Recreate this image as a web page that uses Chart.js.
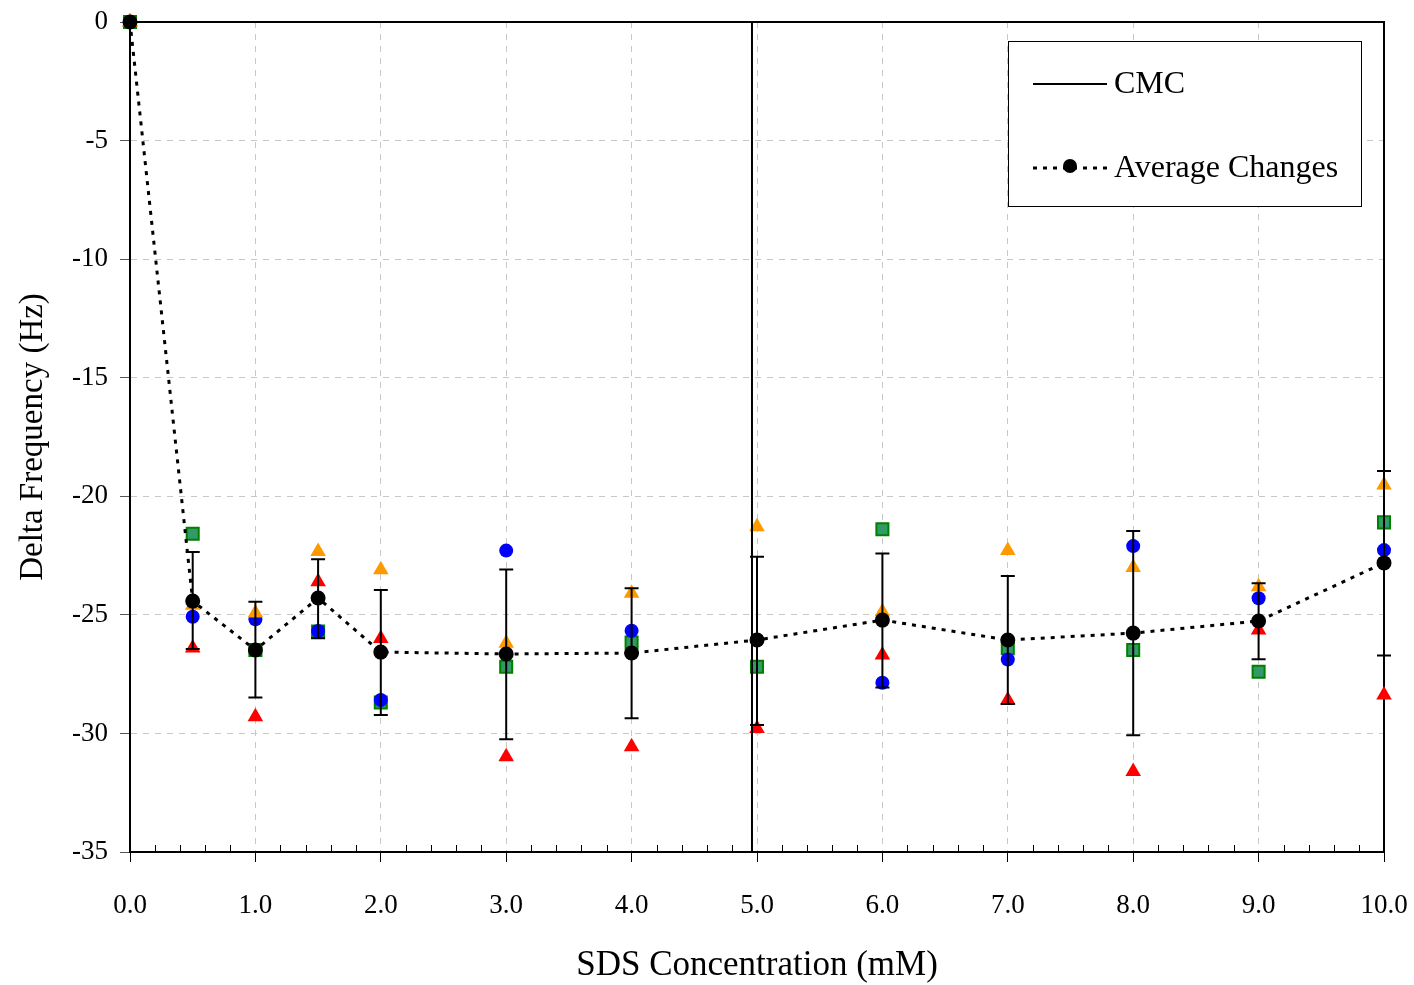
<!DOCTYPE html>
<html>
<head>
<meta charset="utf-8">
<script src="https://cdn.jsdelivr.net/npm/chart.js@4.4.0/dist/chart.umd.min.js"></script>
<style>
  html, body { margin: 0; padding: 0; background: #fff; }
</style>
</head>
<body>
<canvas id="chart" width="1414" height="985"></canvas>
<script>
// SDS concentration (mM)
const conc = [0, 0.5, 1, 1.5, 2, 3, 4, 5, 6, 7, 8, 9, 10];

// single runs, delta frequency (Hz)
const runBlue = [0, -25.08, -25.19, -25.68, -28.59, -22.29, -25.67, -26.05, -27.86, -26.88, -22.1, -24.3, -22.27];
const runGreen = [0, -21.58, -26.48, -25.7, -28.7, -27.19, -26.17, -27.19, -21.39, -26.41, -26.48, -27.4, -21.1];
const runOrange = [0, -24.6, -24.92, -22.33, -23.1, -26.2, -24.09, -21.28, -24.87, -22.29, -23.0, -23.81, -19.52];
const runRed = [0, -26.4, -29.3, -23.6, -26.0, -30.98, -30.56, -29.79, -26.69, -28.59, -31.61, -25.64, -28.38];

// average and error bar ends
const average = [0, -24.42, -26.48, -24.29, -26.57, -26.65, -26.61, -26.06, -25.22, -26.06, -25.77, -25.26, -22.81];
const errUpper = [0, -22.35, -24.45, -22.66, -23.95, -23.09, -23.88, -22.55, -22.41, -23.36, -21.46, -23.67, -18.93];
const errLower = [0, -26.44, -28.48, -25.99, -29.22, -30.25, -29.36, -29.64, -28.06, -28.76, -30.08, -26.87, -26.71];

const cmc = 4.96;
const yRange = [-35, 0];
const xRange = [0, 10];

const FONT = '"Liberation Serif", "Times New Roman", serif';

const pts = arr => conc.map((x, i) => ({ x: x, y: arr[i] }));

// error bars, drawn just before the average dataset
const errorBars = {
  id: 'errorBars',
  beforeDatasetDraw(chart, args) {
    if (args.index !== 0) return;
    const ctx = chart.ctx;
    const xs = chart.scales.x, ys = chart.scales.y;
    ctx.save();
    ctx.strokeStyle = '#000';
    ctx.lineWidth = 2;
    conc.forEach((c, i) => {
      if (errUpper[i] === errLower[i]) return;
      const px = xs.getPixelForValue(c);
      const top = ys.getPixelForValue(errUpper[i]);
      const bot = ys.getPixelForValue(errLower[i]);
      ctx.beginPath();
      ctx.moveTo(px, top); ctx.lineTo(px, bot);
      ctx.moveTo(px - 7, top); ctx.lineTo(px + 7, top);
      ctx.moveTo(px - 7, bot); ctx.lineTo(px + 7, bot);
      ctx.stroke();
    });
    ctx.restore();
  }
};

// top / right frame and inner minor ticks
const frame = {
  id: 'frame',
  beforeDatasetsDraw(chart) {
    const ctx = chart.ctx;
    const a = chart.chartArea;
    const xs = chart.scales.x;
    ctx.save();
    ctx.strokeStyle = '#000';
    ctx.lineWidth = 2;
    ctx.beginPath();
    ctx.moveTo(a.left, a.top); ctx.lineTo(a.right, a.top); ctx.lineTo(a.right, a.bottom);
    ctx.stroke();
    ctx.lineWidth = 1;
    ctx.beginPath();
    for (let k = 1; k < 50; k++) {
      if (k % 5 === 0) continue;
      const px = Math.round(xs.getPixelForValue(k / 5)) + 0.5;
      ctx.moveTo(px, a.bottom); ctx.lineTo(px, a.bottom - 7);
    }
    ctx.stroke();
    ctx.restore();
  }
};

const legendBox = {
  id: 'legendBox',
  afterDraw(chart) {
    const ctx = chart.ctx;
    const a = chart.chartArea;
    const x0 = a.right - 376, y0 = a.top + 19, w = 353, h = 165;
    ctx.save();
    ctx.fillStyle = '#fff';
    ctx.fillRect(x0, y0, w, h);
    ctx.strokeStyle = '#000';
    ctx.lineWidth = 1;
    ctx.strokeRect(x0 + 0.5, y0 + 0.5, w, h);

    ctx.lineWidth = 2;
    ctx.beginPath();
    ctx.moveTo(x0 + 25, y0 + 43); ctx.lineTo(x0 + 99, y0 + 43);
    ctx.stroke();

    ctx.lineWidth = 3;
    ctx.setLineDash([4, 6]);
    ctx.beginPath();
    ctx.moveTo(x0 + 25, y0 + 127); ctx.lineTo(x0 + 101, y0 + 127);
    ctx.stroke();
    ctx.setLineDash([]);
    ctx.fillStyle = '#000';
    ctx.beginPath();
    ctx.arc(x0 + 62, y0 + 125, 7, 0, Math.PI * 2);
    ctx.fill();

    ctx.font = '32px ' + FONT;
    ctx.textBaseline = 'middle';
    ctx.fillText(chart.data.datasets[5].label, x0 + 106, y0 + 44);
    ctx.fillText(chart.data.datasets[0].label, x0 + 106, y0 + 128);
    ctx.restore();
  }
};

new Chart(document.getElementById('chart'), {
  type: 'scatter',
  data: {
    datasets: [
      {
        label: 'Average Changes',
        type: 'line',
        data: pts(average),
        borderColor: '#000',
        borderWidth: 3,
        borderDash: [4, 6],
        backgroundColor: '#000',
        pointRadius: 7.5,
        pointBorderWidth: 0,
        tension: 0,
        clip: false,
        order: 0
      },
      {
        label: 'Run 3',
        data: pts(runOrange),
        pointStyle: 'triangle',
        pointRadius: 9,
        backgroundColor: '#FF9900',
        borderColor: '#FF9900',
        borderWidth: 0,
        clip: false,
        order: 2
      },
      {
        label: 'Run 4',
        data: pts(runRed),
        pointStyle: 'triangle',
        pointRadius: 9,
        backgroundColor: '#FF0000',
        borderColor: '#FF0000',
        borderWidth: 0,
        clip: false,
        order: 3
      },
      {
        label: 'Run 1',
        data: pts(runBlue),
        pointStyle: 'circle',
        pointRadius: 7,
        backgroundColor: '#0000FF',
        borderColor: '#0000FF',
        borderWidth: 0,
        clip: false,
        order: 4
      },
      {
        label: 'Run 2',
        data: pts(runGreen),
        pointStyle: 'rect',
        pointRadius: 8.5,
        backgroundColor: '#339966',
        borderColor: '#008000',
        borderWidth: 2,
        clip: false,
        order: 5
      },
      {
        label: 'CMC',
        type: 'line',
        data: [{ x: cmc, y: yRange[1] }, { x: cmc, y: yRange[0] }],
        borderColor: '#000',
        borderWidth: 2,
        pointRadius: 0,
        order: 1
      }
    ]
  },
  options: {
    responsive: false,
    animation: false,
    devicePixelRatio: 1,
    layout: { padding: { top: 22, right: 30, left: 0, bottom: 0 } },
    plugins: {
      legend: { display: false },
      tooltip: { enabled: false }
    },
    scales: {
      x: {
        type: 'linear',
        min: xRange[0],
        max: xRange[1],
        afterFit: s => { s.height = 133; s.paddingLeft = 0; s.paddingRight = 0; },
        ticks: {
          stepSize: 1,
          callback: v => Number(v).toFixed(1),
          color: '#000',
          font: { family: FONT, size: 27 },
          padding: 28,
          maxRotation: 0
        },
        grid: {
          color: '#c8c8c8',
          lineWidth: 1,
          tickColor: '#000',
          tickLength: 10,
          tickBorderDash: [],
          tickWidth: 1
        },
        border: { display: true, color: '#000', width: 2, dash: [6, 6] },
        title: {
          display: true,
          text: 'SDS Concentration (mM)',
          color: '#000',
          font: { family: FONT, size: 35, lineHeight: 1.1 },
          padding: { top: 0, bottom: 0 }
        }
      },
      y: {
        min: yRange[0],
        max: yRange[1],
        afterFit: s => { s.width = 130; s.paddingTop = 0; s.paddingBottom = 0; },
        ticks: {
          stepSize: 5,
          color: '#000',
          font: { family: FONT, size: 27 },
          padding: 12
        },
        grid: {
          color: '#c8c8c8',
          lineWidth: 1,
          tickColor: '#555',
          tickLength: 10,
          tickBorderDash: [],
          tickWidth: 1
        },
        border: { display: true, color: '#000', width: 2, dash: [6, 6] },
        title: {
          display: true,
          text: 'Delta Frequency (Hz)',
          color: '#000',
          font: { family: FONT, size: 33 },
          padding: { top: 14, bottom: 0 }
        }
      }
    }
  },
  plugins: [errorBars, frame, legendBox]
});
</script>
</body>
</html>
